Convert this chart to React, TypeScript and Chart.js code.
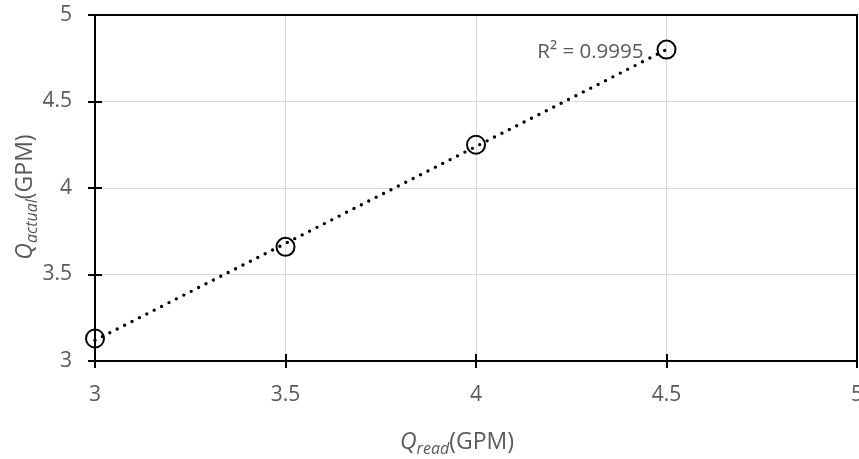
import React, { useEffect, useRef } from "react";
import { Chart, registerables } from "chart.js";

Chart.register(...registerables);

const qRead = [3, 3.5, 4, 4.5];
const qActual = [3.13, 3.66, 4.25, 4.8];
const xRange = [3, 5];
const yRange = [3, 5];
const tickStep = 0.5;
const r2Label = "R² = 0.9995";

const FONT = "'Open Sans', 'Noto Sans', sans-serif";
const GRAY = "#595959";

function linearFit(xs: number[], ys: number[]) {
  const n = xs.length;
  const mx = xs.reduce((a, b) => a + b, 0) / n;
  const my = ys.reduce((a, b) => a + b, 0) / n;
  let sxy = 0;
  let sxx = 0;
  for (let i = 0; i < n; i++) {
    sxy += (xs[i] - mx) * (ys[i] - my);
    sxx += (xs[i] - mx) * (xs[i] - mx);
  }
  const slope = sxy / sxx;
  return { slope, intercept: my - slope * mx };
}

type Part = { text: string; italic: boolean; size: number; dy: number };

function drawParts(ctx: CanvasRenderingContext2D, parts: Part[], x: number, y: number) {
  let cx = x;
  for (const p of parts) {
    ctx.font = `${p.italic ? "italic " : ""}${p.size}px ${FONT}`;
    ctx.fillText(p.text, cx, y + p.dy);
    cx += ctx.measureText(p.text).width;
  }
}

function partsWidth(ctx: CanvasRenderingContext2D, parts: Part[]) {
  let w = 0;
  for (const p of parts) {
    ctx.font = `${p.italic ? "italic " : ""}${p.size}px ${FONT}`;
    w += ctx.measureText(p.text).width;
  }
  return w;
}

const fmt = (v: number) => String(Number(v.toFixed(2)));

const customPlugin = {
  id: "customDecor",
  afterDraw(chart: any) {
    const { ctx, chartArea, scales } = chart;
    const { left, right, top, bottom } = chartArea;
    ctx.save();
    // plot border
    ctx.strokeStyle = "#000";
    ctx.lineWidth = 2;
    ctx.strokeRect(left, top, right - left, bottom - top);
    // cross ticks
    ctx.beginPath();
    scales.y.ticks.forEach((t: any) => {
      const py = Math.round(scales.y.getPixelForValue(t.value));
      ctx.moveTo(left - 7, py);
      ctx.lineTo(left + 7, py);
    });
    scales.x.ticks.forEach((t: any) => {
      const px = Math.round(scales.x.getPixelForValue(t.value));
      ctx.moveTo(px, bottom - 7);
      ctx.lineTo(px, bottom + 7);
    });
    ctx.stroke();

    // tick labels
    ctx.fillStyle = GRAY;
    ctx.font = `21px ${FONT}`;
    ctx.textAlign = "right";
    ctx.textBaseline = "middle";
    scales.y.ticks.forEach((t: any) => {
      const py = scales.y.getPixelForValue(t.value);
      ctx.fillText(fmt(t.value), left - 23, py);
    });
    ctx.textAlign = "center";
    ctx.textBaseline = "alphabetic";
    scales.x.ticks.forEach((t: any) => {
      const px = scales.x.getPixelForValue(t.value);
      ctx.fillText(fmt(t.value), px, bottom + 40);
    });

    // R² label anchored to last point
    const lx = scales.x.getPixelForValue(qRead[qRead.length - 1]);
    const ly = scales.y.getPixelForValue(qActual[qActual.length - 1]);
    ctx.font = `20.5px ${FONT}`;
    ctx.textAlign = "right";
    ctx.fillText(r2Label, lx - 23, ly + 8);

    // axis titles
    ctx.textAlign = "left";
    const xParts: Part[] = [
      { text: "Q", italic: true, size: 23, dy: 0 },
      { text: "read", italic: true, size: 16, dy: 5 },
      { text: "(GPM)", italic: false, size: 23, dy: 0 },
    ];
    const xw = partsWidth(ctx, xParts);
    drawParts(ctx, xParts, 457 - xw / 2, 449);

    const yParts: Part[] = [
      { text: "Q", italic: true, size: 23, dy: 0 },
      { text: "actual", italic: true, size: 16, dy: 5 },
      { text: "(GPM)", italic: false, size: 23, dy: 0 },
    ];
    const yw = partsWidth(ctx, yParts);
    ctx.translate(32, 197);
    ctx.rotate(-Math.PI / 2);
    drawParts(ctx, yParts, -yw / 2, 0);
    ctx.restore();
  },
};

export default function App() {
  const ref = useRef<HTMLCanvasElement | null>(null);

  useEffect(() => {
    document.body.style.margin = "0";
    const canvas = ref.current;
    if (!canvas) return;
    const fit = linearFit(qRead, qActual);
    const x0 = qRead[0];
    const x1 = qRead[qRead.length - 1];
    const chart = new Chart(canvas, {
      type: "scatter",
      data: {
        datasets: [
          {
            type: "line",
            data: [
              { x: x0, y: fit.intercept + fit.slope * x0 },
              { x: x1, y: fit.intercept + fit.slope * x1 },
            ],
            borderColor: "#000",
            borderWidth: 3.4,
            borderDash: [0, 8.3],
            borderCapStyle: "round",
            pointRadius: 0,
            fill: false,
            clip: false as any,
          } as any,
          {
            data: qRead.map((x, i) => ({ x, y: qActual[i] })),
            pointRadius: 9,
            pointHoverRadius: 9,
            borderWidth: 2,
            borderColor: "#000",
            backgroundColor: "rgba(0,0,0,0)",
            pointStyle: "circle",
            clip: false as any,
          } as any,
        ],
      },
      options: {
        animation: false,
        responsive: false,
        layout: { autoPadding: false, padding: { top: 15, right: 2, left: 0, bottom: 0 } },
        plugins: {
          legend: { display: false },
          tooltip: { enabled: false },
          title: { display: false },
        },
        scales: {
          x: {
            type: "linear",
            min: xRange[0],
            max: xRange[1],
            ticks: { stepSize: tickStep, display: false },
            grid: { color: "#d9d9d9", lineWidth: 1, drawTicks: false },
            border: { display: false },
            afterFit: (s: any) => {
              s.height = 98;
              s.paddingLeft = 0;
              s.paddingRight = 0;
            },
          },
          y: {
            type: "linear",
            min: yRange[0],
            max: yRange[1],
            ticks: { stepSize: tickStep, display: false },
            grid: { color: "#d9d9d9", lineWidth: 1, drawTicks: false },
            border: { display: false },
            afterFit: (s: any) => {
              s.width = 95;
              s.paddingTop = 0;
              s.paddingBottom = 0;
            },
          },
        },
      },
      plugins: [customPlugin],
    });
    return () => chart.destroy();
  }, []);

  return (
    <div style={{ position: "absolute", left: 0, top: 0, width: 859, height: 459 }}>
      <canvas ref={ref} width={859} height={459} style={{ width: 859, height: 459 }} />
    </div>
  );
}
